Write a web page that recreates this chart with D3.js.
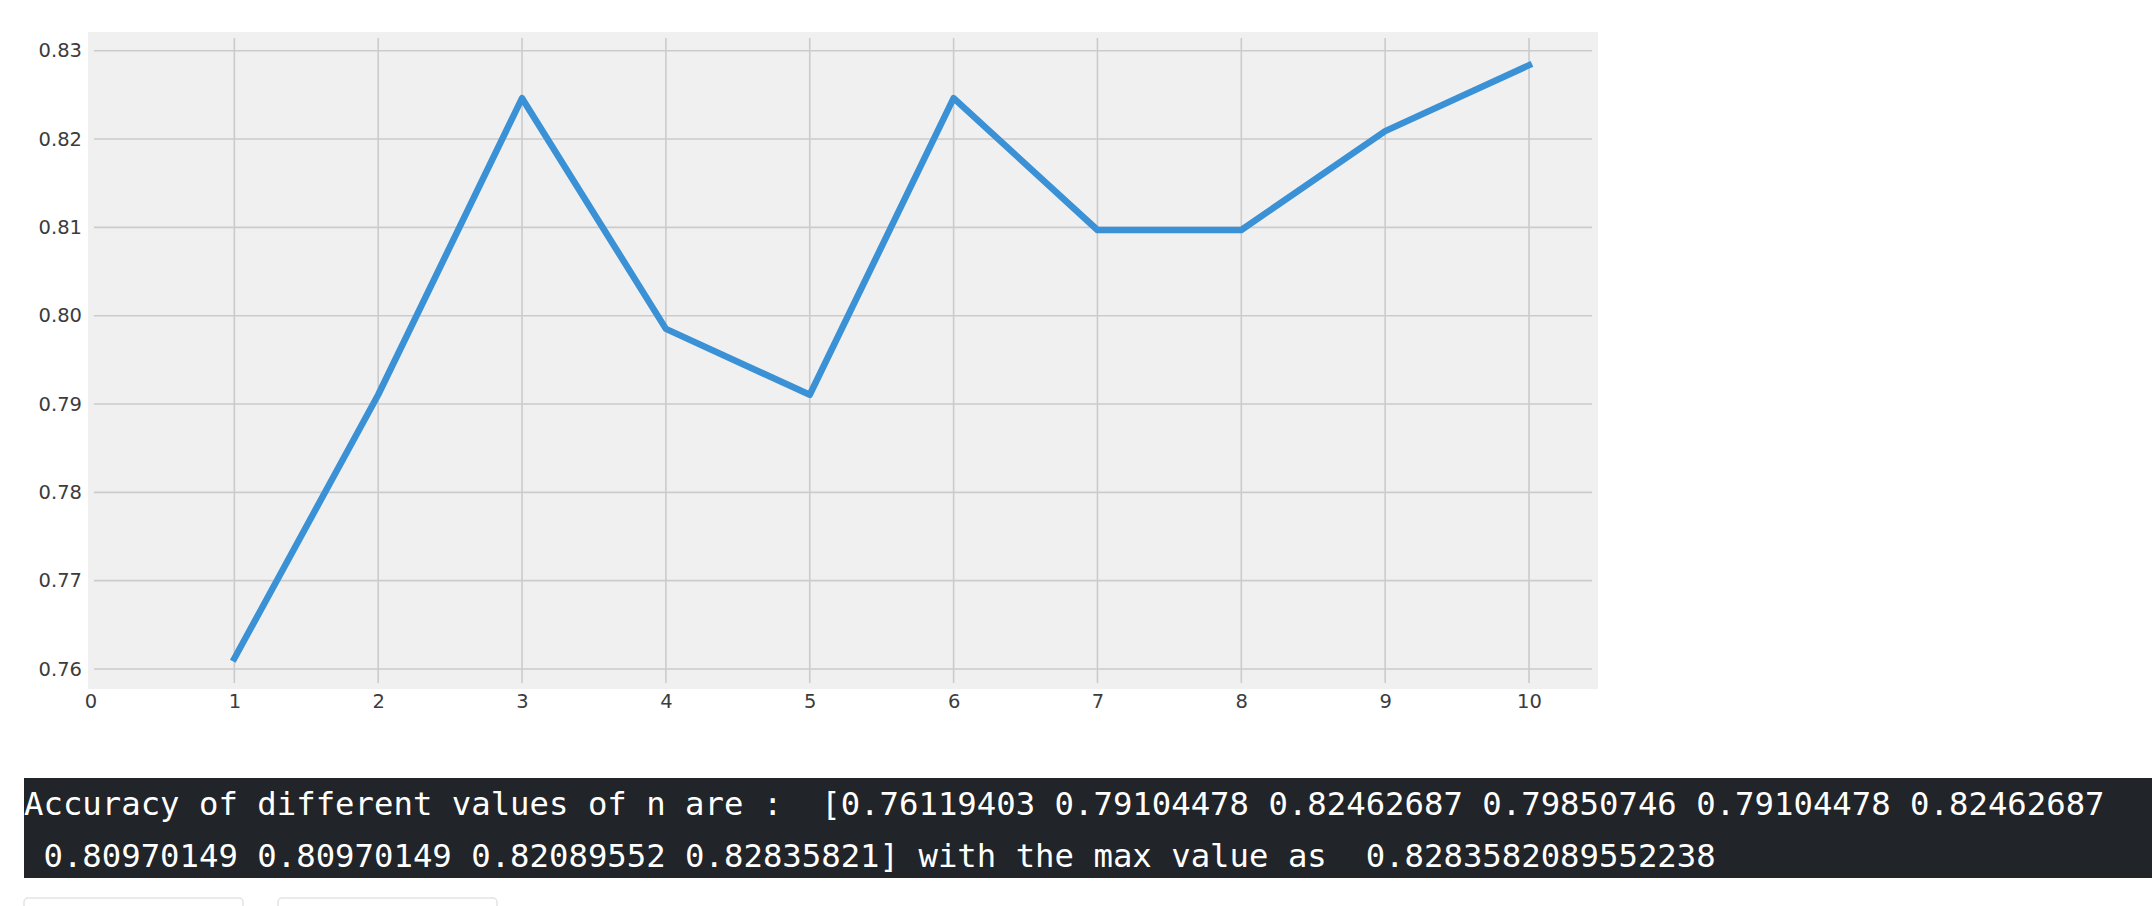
<!DOCTYPE html>
<html lang="en">
<head>
	<meta charset="utf-8">
	<title>Accuracy for different n</title>
	<script src="https://cdn.jsdelivr.net/npm/d3@7"></script>
	<style type="text/css">
		body {
			margin: 0;
			background: #ffffff;
		}
		.axis text {
			font-family: "DejaVu Sans", sans-serif;
			font-size: 19.5px;
			fill: #3c3c3c;
		}
		.grid line {
			stroke: #cbcbcb;
			stroke-width: 1.6;
		}
		.output text {
			font-family: "DejaVu Sans Mono", monospace;
			font-size: 32.3px;
			fill: #ffffff;
			white-space: pre;
		}
	</style>
</head>
<body>
<script type="text/javascript">

// values of n on the x axis
var nValues = [1, 2, 3, 4, 5, 6, 7, 8, 9, 10];

// accuracy for each n
var accuracy = [0.76119403, 0.79104478, 0.82462687, 0.79850746, 0.79104478,
                0.82462687, 0.80970149, 0.80970149, 0.82089552, 0.82835821];

// tick labels
var xTicks = [0, 1, 2, 3, 4, 5, 6, 7, 8, 9, 10];
var yTicks = [0.76, 0.77, 0.78, 0.79, 0.80, 0.81, 0.82, 0.83];

// printed max value
var maxValue = "0.8283582089552238";

var width = 2152;
var height = 906;

// plot area (pixels)
var plot = {left: 94, right: 1592, top: 38, bottom: 683};

var svg = d3.select("body")
	.append("svg")
	.attr("width", width)
	.attr("height", height);

// grey figure background
svg.append("rect")
	.attr("x", 88)
	.attr("y", 32)
	.attr("width", 1598 - 88)
	.attr("height", 689 - 32)
	.attr("fill", "#f0f0f0");

var xScale = d3.scaleLinear()
	.domain([0, 10])
	.range([90.5, 1529]);

var yScale = d3.scaleLinear()
	.domain([0.76, 0.83])
	.range([669, 50.7]);

// horizontal grid
svg.append("g")
	.attr("class", "grid")
	.selectAll("line")
	.data(yTicks)
	.enter()
	.append("line")
	.attr("x1", plot.left)
	.attr("x2", plot.right)
	.attr("y1", function(d) { return yScale(d); })
	.attr("y2", function(d) { return yScale(d); });

// vertical grid (only inside the plot)
svg.append("g")
	.attr("class", "grid")
	.selectAll("line")
	.data(xTicks.filter(function(d) { return xScale(d) >= plot.left; }))
	.enter()
	.append("line")
	.attr("x1", function(d) { return xScale(d); })
	.attr("x2", function(d) { return xScale(d); })
	.attr("y1", plot.top)
	.attr("y2", plot.bottom);

// Axes without lines, only labels
var xAxis = d3.axisBottom(xScale)
	.tickValues(xTicks)
	.tickSize(0)
	.tickPadding(0)
	.tickFormat(d3.format("d"));

var yAxis = d3.axisLeft(yScale)
	.tickValues(yTicks)
	.tickSize(0)
	.tickPadding(0)
	.tickFormat(d3.format(".2f"));

var gx = svg.append("g")
	.attr("class", "axis")
	.attr("transform", "translate(0,694)")
	.call(xAxis);
gx.select(".domain").remove();

var gy = svg.append("g")
	.attr("class", "axis")
	.attr("transform", "translate(82,0)")
	.call(yAxis);
gy.select(".domain").remove();

// the accuracy line
var line = d3.line()
	.x(function(d, i) { return xScale(nValues[i]); })
	.y(function(d) { return yScale(d); });

svg.append("path")
	.datum(accuracy)
	.attr("d", line)
	.attr("fill", "none")
	.attr("stroke", "#3a91d5")
	.attr("stroke-width", 6.5)
	.attr("stroke-linecap", "square")
	.attr("stroke-linejoin", "round");

// printed output block
svg.append("rect")
	.attr("x", 24)
	.attr("y", 778)
	.attr("width", width - 24)
	.attr("height", 100)
	.attr("fill", "#212428");

var fmt = function(v) { return v.toFixed(8); };
var line1 = "Accuracy of different values of n are :  [" +
	accuracy.slice(0, 6).map(fmt).join(" ");
var line2 = " " + accuracy.slice(6).map(fmt).join(" ") +
	"] with the max value as  " + maxValue;

var out = svg.append("g").attr("class", "output");
out.append("text")
	.attr("x", 24)
	.attr("y", 815)
	.attr("xml:space", "preserve")
	.text(line1);
out.append("text")
	.attr("x", 24)
	.attr("y", 867)
	.attr("xml:space", "preserve")
	.text(line2);

// the two buttons peeking in at the bottom
svg.selectAll(".btn")
	.data([24, 278])
	.enter()
	.append("rect")
	.attr("class", "btn")
	.attr("x", function(d) { return d; })
	.attr("y", 898)
	.attr("width", 219)
	.attr("height", 20)
	.attr("rx", 4)
	.attr("fill", "#ffffff")
	.attr("stroke", "#e3e3e3")
	.attr("stroke-width", 1.5);

</script>
</body>
</html>
